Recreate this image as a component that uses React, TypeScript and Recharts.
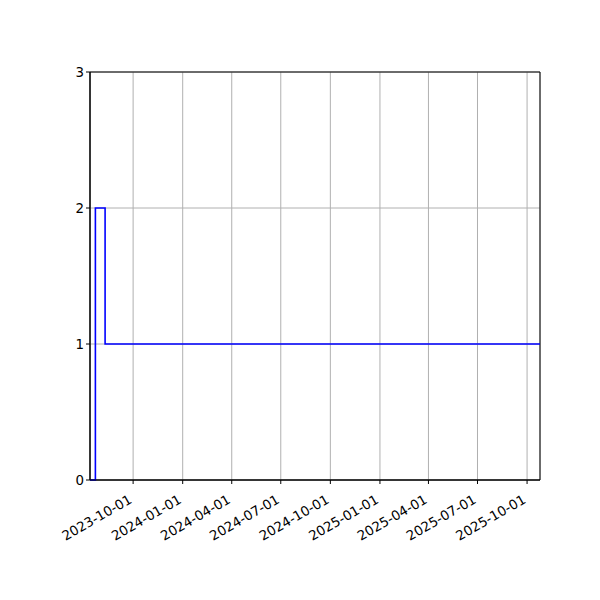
import { LineChart, Line, XAxis, YAxis, CartesianGrid, ReferenceArea } from 'recharts'

// Step series: count over time
const stepDates = ['2023-07-13', '2023-07-23', '2023-08-10', '2025-10-25']
const stepValues = [0, 2, 1, 1]

const tickDates = [
  '2023-10-01',
  '2024-01-01',
  '2024-04-01',
  '2024-07-01',
  '2024-10-01',
  '2025-01-01',
  '2025-04-01',
  '2025-07-01',
  '2025-10-01',
]
const yTicks = [0, 1, 2, 3]

const toTime = (d: string) => Date.parse(d + 'T00:00:00Z')

const data = stepDates.map((d, i) => ({ t: toTime(d), v: stepValues[i] }))
const xDomain: [number, number] = [toTime(stepDates[0]), toTime(stepDates[stepDates.length - 1])]

const fontFamily = 'DejaVu Sans, sans-serif'

function DateTick({ x, y, payload }: any) {
  const d = new Date(payload.value).toISOString().slice(0, 10)
  return (
    <g transform={`translate(${x - 5},${y + 8})`}>
      <text
        transform="rotate(-30)"
        textAnchor="end"
        dy="0.7em"
        fill="#000"
        fontSize={13.4}
        fontFamily={fontFamily}
      >
        {d}
      </text>
    </g>
  )
}

export default function App() {
  return (
    <div style={{ position: 'absolute', left: 0, top: 0, background: '#fff' }}>
      <LineChart width={600} height={600} data={data} margin={{ top: 72, right: 60, bottom: 0, left: 0 }}>
        <CartesianGrid stroke="#b0b0b0" strokeWidth={1} />
        <XAxis
          dataKey="t"
          type="number"
          scale="time"
          domain={xDomain}
          ticks={tickDates.map(toTime)}
          height={120}
          stroke="#000"
          tickSize={4}
          tick={<DateTick />}
          interval={0}
        />
        <YAxis
          type="number"
          domain={[0, 3]}
          ticks={yTicks}
          width={90}
          stroke="#000"
          tickSize={4}
          tick={{ fill: '#000', fontSize: 13.4, fontFamily }}
          interval={0}
        />
        <ReferenceArea x1={xDomain[0]} x2={xDomain[1]} y1={0} y2={3} fill="none" stroke="#000" strokeWidth={1} ifOverflow="visible" />
        <Line
          type="stepAfter"
          dataKey="v"
          stroke="#0000ff"
          strokeWidth={1.6}
          dot={false}
          isAnimationActive={false}
        />
      </LineChart>
    </div>
  )
}
